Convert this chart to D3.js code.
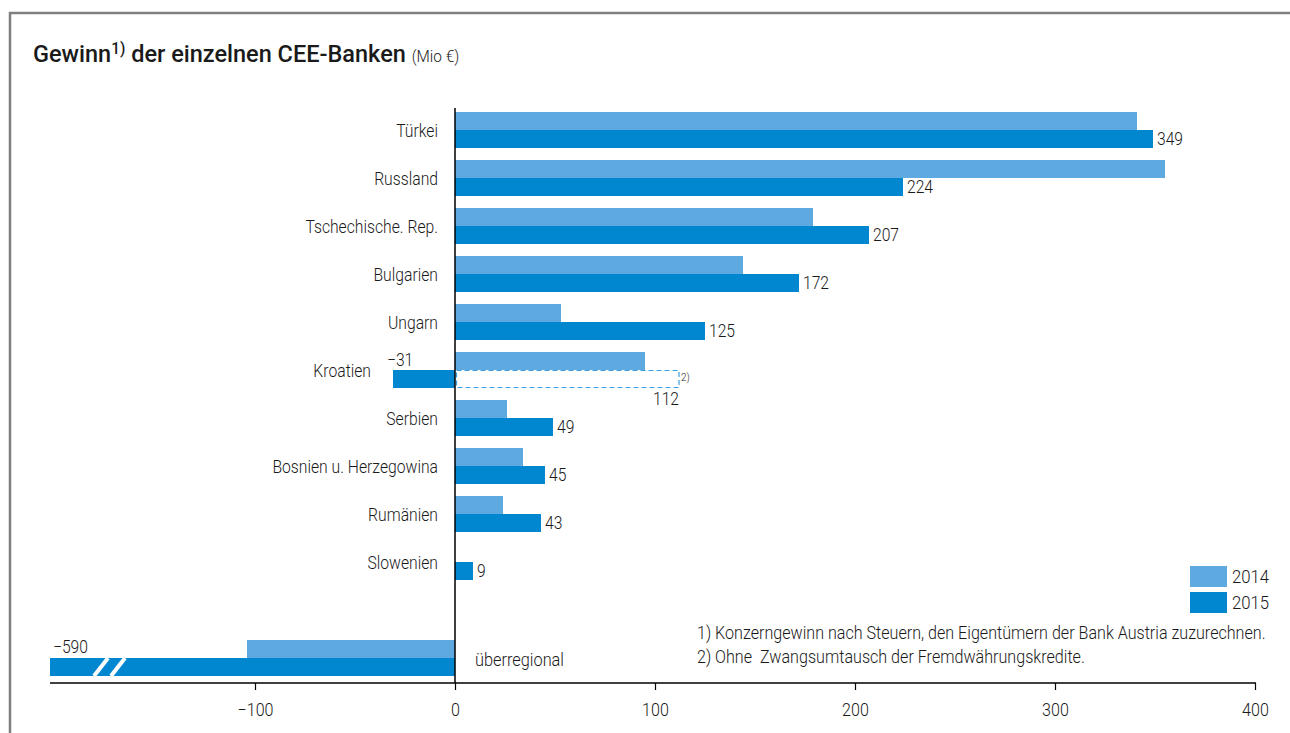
<!DOCTYPE html>
<html>
<head>
<meta charset="utf-8">
<script src="https://cdn.jsdelivr.net/npm/d3@7"></script>
<style>
  body { margin: 0; background: #fff; }
  svg { display: block; font-family: "Roboto", "Liberation Sans", sans-serif; }
  text { fill: #1a1a1a; white-space: pre; font-weight: 300; }
</style>
</head>
<body>
<svg id="chart"></svg>
<script>
var categories = ["Türkei", "Russland", "Tschechische. Rep.", "Bulgarien", "Ungarn", "Kroatien",
  "Serbien", "Bosnien u. Herzegowina", "Rumänien", "Slowenien", "", "überregional"];
var values2014 = [341, 355, 179, 144, 53, 95, 26, 34, 24, null, null, -104];
var values2015 = [349, 224, 207, 172, 125, -31, 49, 45, 43, 9, null, -590];
var kroatienOhne = 112;
var seriesNames = ["2014", "2015"];
var tickValues = [-100, 0, 100, 200, 300, 400];
var footnotes = ["1) Konzerngewinn nach Steuern, den Eigentümern der Bank Austria zuzurechnen.",
  "2) Ohne  Zwangsumtausch der Fremdwährungskredite."];

var colors = {"2014": "#5ea9e0", "2015": "#0087d0"};
var width = 1290, height = 733;

// fake a condensed face: squeeze text horizontally
function squeeze(x, y, s){
  return 'translate(' + x + ',' + y + ') scale(' + s + ',1)';
}
function minus(v){ return v < 0 ? '−' + Math.abs(v) : '' + v; }

var chart = d3.select('#chart')
  .attr('width', width)
  .attr('height', height);

// frame
chart.append('path')
  .attr('d', 'M10,' + height + 'V13H' + (width + 2))
  .attr('fill', 'none')
  .attr('stroke', '#7f7f7f')
  .attr('stroke-width', 2.5);

// title
var title = chart.append('text')
  .attr('transform', squeeze(33, 62, 0.96));
title.append('tspan').attr('font-size', 24.5).attr('font-weight', 500).text('Gewinn');
title.append('tspan').attr('font-size', 16).attr('font-weight', 500).attr('dy', -8).text('1)');
title.append('tspan').attr('font-size', 24.5).attr('font-weight', 500).attr('dy', 8).text(' der einzelnen CEE-Banken ');
title.append('tspan').attr('font-size', 16).text('(Mio €)');

var xScale = d3.scaleLinear()
  .domain([-202.5, 400])
  .range([50, 1255])
  .clamp(true);

var rows = categories.map(function(d, i){ return i; });
var yScale = d3.scaleBand()
  .domain(rows)
  .range([106, 682])
  .paddingInner(0.25)
  .paddingOuter(0.125);

var ySub = d3.scaleBand()
  .domain(seriesNames)
  .range([0, yScale.bandwidth()]);

var data = [];
categories.forEach(function(c, i){
  if (values2014[i] != null) data.push({row: i, series: "2014", value: values2014[i]});
  if (values2015[i] != null) data.push({row: i, series: "2015", value: values2015[i]});
});

var bars = chart.append('g').attr('id', 'bars');

bars.selectAll('.bar')
  .data(data)
  .enter().append('rect')
  .attr('class', 'bar')
  .attr('x', function(d){ return xScale(Math.min(0, d.value)); })
  .attr('y', function(d){ return yScale(d.row) + ySub(d.series); })
  .attr('width', function(d){ return Math.abs(xScale(d.value) - xScale(0)); })
  .attr('height', ySub.bandwidth())
  .attr('fill', function(d){ return colors[d.series]; });

// value labels for 2015 (positive ones)
bars.selectAll('.val')
  .data(data.filter(function(d){ return d.series == "2015" && d.value > 0; }))
  .enter().append('text')
  .attr('class', 'val')
  .attr('transform', function(d){
    return squeeze(xScale(d.value) + 4, yScale(d.row) + ySub(d.series) + ySub.bandwidth() / 2, 0.87);
  })
  .attr('dy', '0.36em')
  .attr('font-size', 18)
  .text(function(d){ return d.value; });

// Kroatien details
var kr = categories.indexOf("Kroatien");
var krY = yScale(kr) + ySub("2015");
bars.append('rect')
  .attr('x', xScale(0) + 1.5)
  .attr('y', krY + 0.5)
  .attr('width', xScale(kroatienOhne) - xScale(0) - 1.5)
  .attr('height', ySub.bandwidth() - 1)
  .attr('fill', 'none')
  .attr('stroke', '#3a9fe2')
  .attr('stroke-width', 1.2)
  .attr('stroke-dasharray', '5,3');
bars.append('text')
  .attr('transform', squeeze(xScale(kroatienOhne) + 2, krY + 11, 0.9))
  .attr('font-size', 11).text('2)');
bars.append('text')
  .attr('transform', squeeze(xScale(kroatienOhne), krY + 35, 0.87))
  .attr('text-anchor', 'end')
  .attr('font-size', 18).text(kroatienOhne);
bars.append('text')
  .attr('transform', squeeze(xScale(values2015[kr]) - 6, krY - 4, 0.87))
  .attr('font-size', 18).text(minus(values2015[kr]));

// überregional: broken bar
var ub = categories.indexOf("überregional");
var ubY = yScale(ub) + ySub("2015");
bars.append('text')
  .attr('transform', squeeze(53, ubY - 5, 0.87))
  .attr('font-size', 18).text(minus(values2015[ub]));
[0, 17].forEach(function(off){
  bars.append('path')
    .attr('d', 'M' + (94 + off) + ',' + (ubY + ySub.bandwidth()) + 'L' + (108 + off) + ',' + ubY)
    .attr('stroke', '#fff')
    .attr('stroke-width', 4);
});
bars.append('text')
  .attr('transform', squeeze(475, ubY + 8, 0.86))
  .attr('font-size', 19).text('überregional');

// category labels
chart.append('g').selectAll('text')
  .data(categories.filter(function(c){ return c != "" && c != "überregional"; }))
  .enter().append('text')
  .attr('transform', function(d){
    return squeeze(d == "Kroatien" ? 371 : 438, yScale(categories.indexOf(d)) + ySub.bandwidth(), 0.85);
  })
  .attr('dy', '0.36em')
  .attr('text-anchor', 'end')
  .attr('font-size', 18.5)
  .text(function(d){ return d; });

// axis
var xAxis = chart.append('g')
  .attr('id', 'x-axis')
  .attr('transform', 'translate(0,683)')
  .call(d3.axisBottom(xScale)
    .tickValues(tickValues)
    .tickSize(7)
    .tickSizeOuter(0)
    .tickPadding(13)
    .tickFormat(minus));
xAxis.select('.domain').attr('stroke-width', 1.5).attr('d', 'M50,0H1256');
xAxis.selectAll('.tick line').attr('stroke-width', 1.2);
xAxis.selectAll('text')
  .attr('font-family', 'Roboto, sans-serif')
  .attr('font-size', 18.5)
  .attr('transform', 'scale(0.87,1)')
  .style('fill', '#1a1a1a');

// zero line
chart.append('line')
  .attr('x1', xScale(0)).attr('x2', xScale(0))
  .attr('y1', 108).attr('y2', 683)
  .attr('stroke', '#000')
  .attr('stroke-width', 1.5);

// legend
var legend = chart.append('g').attr('transform', 'translate(1190,566)');
seriesNames.forEach(function(s, i){
  legend.append('rect')
    .attr('x', 0).attr('y', i * 26)
    .attr('width', 37).attr('height', 21)
    .attr('fill', colors[s]);
  legend.append('text')
    .attr('transform', squeeze(42, i * 26 + 10.5, 0.88))
    .attr('dy', '0.36em')
    .attr('font-size', 19)
    .text(s);
});

// footnotes
chart.append('g').selectAll('text')
  .data(footnotes)
  .enter().append('text')
  .attr('transform', function(d, i){ return squeeze(697, 639 + i * 24, 0.895); })
  .attr('font-size', 18)
  .text(function(d){ return d; });
</script>
</body>
</html>
